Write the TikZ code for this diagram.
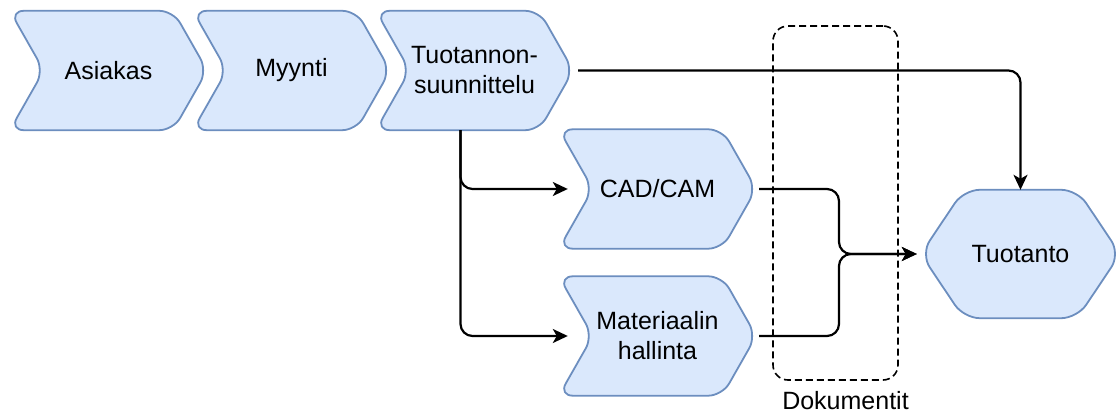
\documentclass[tikz,border=0pt]{standalone}
\usepackage{fontspec}
\setmainfont{Liberation Sans}
\usetikzlibrary{calc,arrows.meta,backgrounds}
\definecolor{boxfill}{HTML}{DAE8FC}
\definecolor{boxline}{HTML}{6C8EBF}
\tikzset{
  labeltext/.style={font=\fontsize{25}{30}\selectfont, align=center, inner sep=0pt},
  stepbox/.style={labeltext, minimum width=197pt, minimum height=119pt},
  hexbox/.style={labeltext, minimum width=199pt, minimum height=128pt},
  outline/.style={fill=boxfill, draw=boxline, line width=1.8pt, rounded corners=14pt},
  flow/.style={draw=black, line width=2.2pt, rounded corners=12pt,
    -{Stealth[length=15pt,width=14pt,inset=4pt]}},
  docframe/.style={draw=black, dash pattern=on 7pt off 4pt, line width=1.6pt,
    rounded corners=15pt, minimum width=125pt, minimum height=354pt, inner sep=0pt}
}
% chevron outline behind a node: notch on the left, point on the right
\newcommand\chevronoutline[2]{%
  \path[outline] (#1.north west) -- ($(#1.north east)+(-#2,0)$) -- (#1.east)
    -- ($(#1.south east)+(-#2,0)$) -- (#1.south west) -- ($(#1.west)+(#2,0)$) -- cycle;}
% hexagon outline behind a node
\newcommand\hexoutline[2]{%
  \path[outline, rounded corners=16pt] ($(#1.north west)+(#2,0)$) -- ($(#1.north east)+(-#2,0)$)
    -- (#1.east) -- ($(#1.south east)+(-#2,0)$) -- ($(#1.south west)+(#2,0)$)
    -- (#1.west) -- cycle;}
\begin{document}
\begin{tikzpicture}[x=1pt,y=-1pt]
\useasboundingbox (0,0) rectangle (1120,414);

% process steps
\node[stepbox] (asiakas) at (108.5,70.5) {Asiakas};
\node[stepbox] (myynti)  at (291.5,70.5) {Myynti};
\node[stepbox] (suunn)   at (474.5,70.5) {Tuotannon-\\suunnittelu};
\node[stepbox] (cad)     at (657.5,189)  {CAD/CAM};
\node[stepbox] (mat)     at (657.5,336)  {Materiaalin\\hallinta};
\node[hexbox]  (prod)    at (1020.5,254) {Tuotanto};

\begin{pgfonlayer}{background}
  \chevronoutline{asiakas}{34}
  \chevronoutline{myynti}{34}
  \chevronoutline{suunn}{34}
  \chevronoutline{cad}{34}
  \chevronoutline{mat}{34}
  \hexoutline{prod}{43}
\end{pgfonlayer}

% documents frame
\node[docframe] (docs) at (835.5,203) {};
\node[labeltext] (doclabel) at ($(docs.south)+(10,20)$) {Dokumentit};

% connectors
\coordinate (split) at ($(suunn.south)+(-14,0)$);
\coordinate (merge) at (839,254);
\draw[flow] ($(suunn.east)+(5,0)$) -| (prod.north);
\draw[flow] (split) |- ($(cad.west)+(9,0)$);
\draw[flow] (split) |- ($(mat.west)+(9,0)$);
\draw[flow] ($(cad.east)+(3,0)$) -| (merge) -- ($(prod.west)+(-4,0)$);
\draw[flow] ($(mat.east)+(3,0)$) -| (merge) -- ($(prod.west)+(-4,0)$);
\end{tikzpicture}
\end{document}
